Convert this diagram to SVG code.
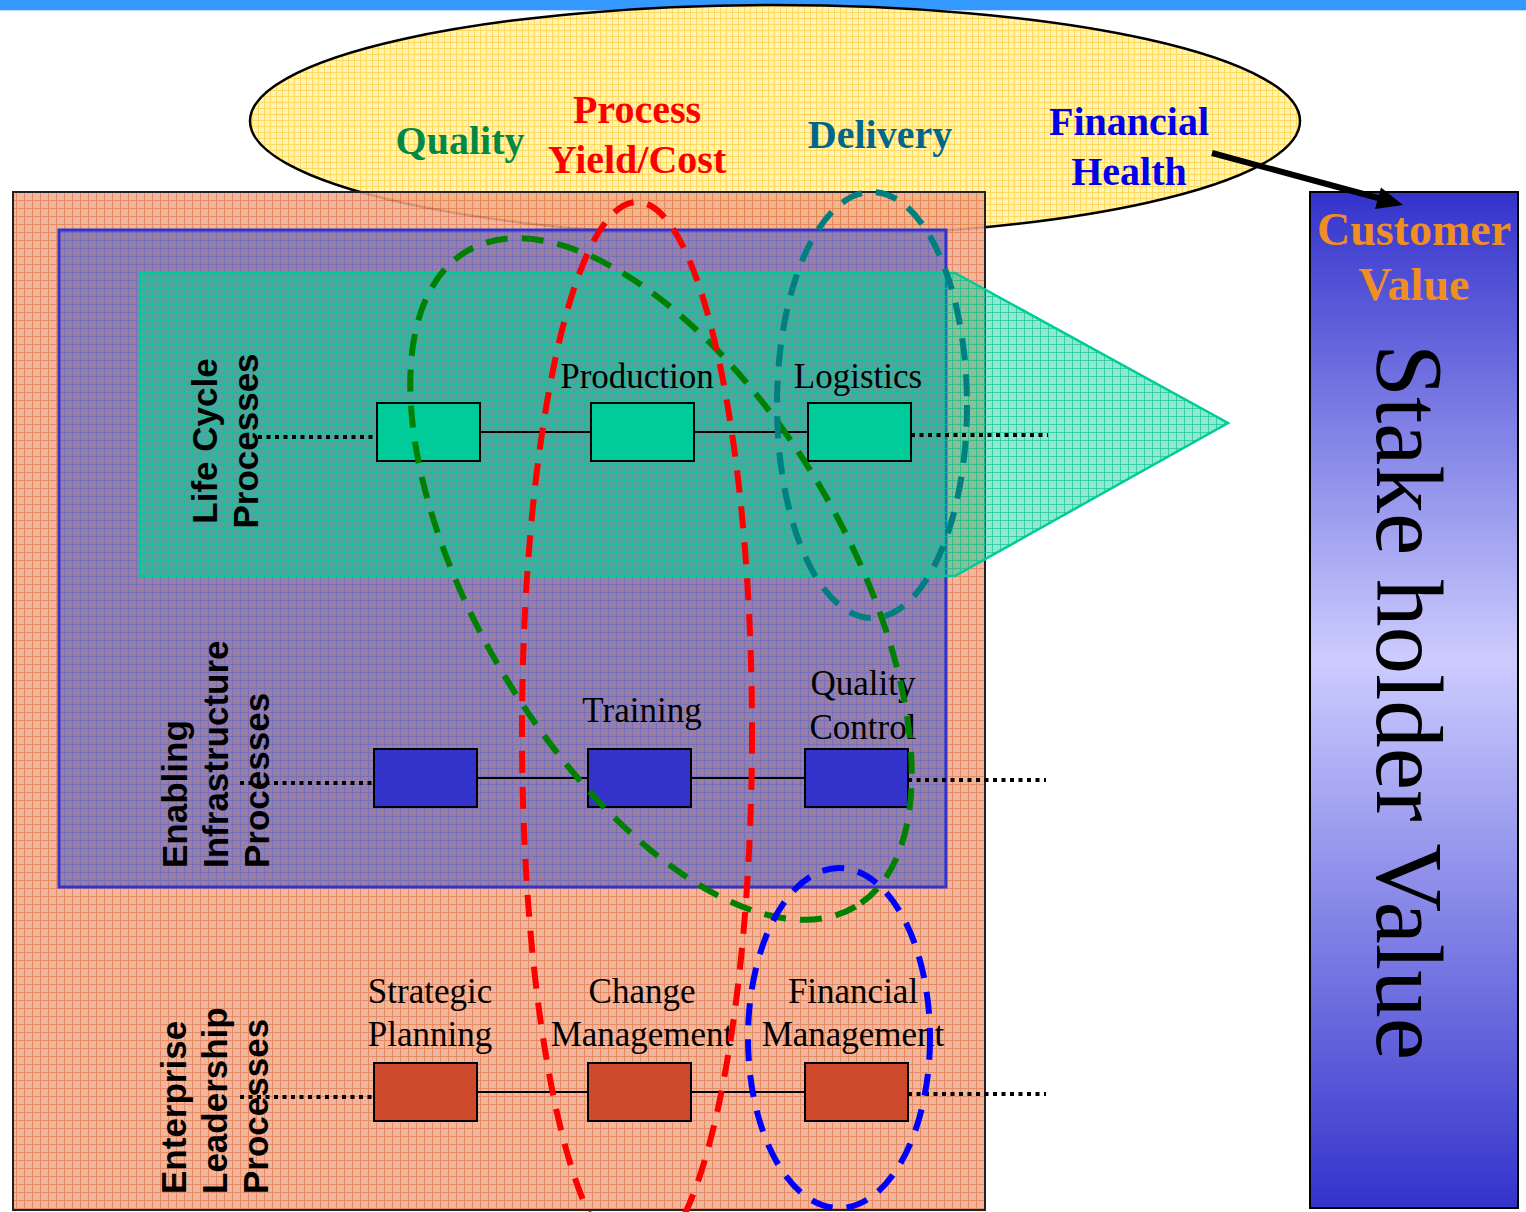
<svg xmlns="http://www.w3.org/2000/svg" width="1526" height="1212" viewBox="0 0 1526 1212">
<style>
.node rect.box{stroke:#000;stroke-width:2}
.lbl{font-family:"Liberation Serif","Times New Roman",serif;font-size:35px;fill:#000;text-anchor:middle}
.side{font-family:"Liberation Sans",Arial,sans-serif;font-size:35px;font-weight:bold;fill:#000}
.hdr{font-family:"Liberation Serif","Times New Roman",serif;font-size:40px;font-weight:bold;text-anchor:middle}
.solid{stroke:#000;stroke-width:2;fill:none}
.dot{stroke:#000;stroke-width:4;stroke-dasharray:4 4.5;fill:none}
.dash{fill:none;stroke-width:6;stroke-dasharray:22 14}
</style>
<defs>
<pattern id="pY" width="6" height="6" patternUnits="userSpaceOnUse">
<rect width="6" height="6" fill="#FFF4B4"/>
<path d="M0 0.5H6M0.5 0V6" stroke="#FFD860" stroke-width="1"/>
</pattern>
<pattern id="pO" width="8" height="8" patternUnits="userSpaceOnUse">
<rect width="8" height="8" fill="#F0AC8E"/>
<path d="M0 0.5H8M0.5 0V8" stroke="#E17B50" stroke-width="1"/>
</pattern>
<pattern id="pP" width="8" height="8" patternUnits="userSpaceOnUse">
<rect width="8" height="8" fill="#917BA4"/>
<path d="M0 0.5H8M0.5 0V8" stroke="#6E6EC6" stroke-width="1"/>
</pattern>
<pattern id="pT" width="8" height="8" patternUnits="userSpaceOnUse">
<rect width="8" height="8" fill="#00CC99" fill-opacity="0.44"/>
<path d="M0 0.5H8M0.5 0V8" stroke="#19C593" stroke-opacity="0.7" stroke-width="1"/>
</pattern>
<linearGradient id="gB" x1="0" y1="0" x2="0" y2="1">
<stop offset="0" stop-color="#3333CC"/>
<stop offset="0.46" stop-color="#CCCCFF"/>
<stop offset="1" stop-color="#3333CC"/>
</linearGradient>
</defs>

<rect x="0" y="0" width="1526" height="10" fill="#3399FF"/>
<rect x="0" y="10" width="1526" height="1" fill="#BFDFFF"/>

<g id="measures">
<ellipse cx="775" cy="121" rx="525" ry="116" fill="url(#pY)" stroke="#000" stroke-width="2.5"/>
<text class="hdr" x="460" y="154" fill="#008844">Quality</text>
<text class="hdr" x="637" y="123" fill="#FF0000">Process</text>
<text class="hdr" x="637" y="173" fill="#FF0000">Yield/Cost</text>
<text class="hdr" x="880" y="148" fill="#00668C">Delivery</text>
<text class="hdr" x="1129" y="135" fill="#0000EE">Financial</text>
<text class="hdr" x="1129" y="185" fill="#0000EE">Health</text>
</g>

<g id="enterprise-area">
<rect x="13" y="192" width="972" height="1018" fill="url(#pO)" fill-opacity="0.88" stroke="#222" stroke-width="2"/>
</g>
<g id="infrastructure-area">
<rect x="59" y="230" width="887" height="657" fill="url(#pP)" fill-opacity="0.92" stroke="#3333CC" stroke-width="3"/>
</g>
<g id="lifecycle-arrow">
<polygon points="140,273 955,273 1228,423 955,576 140,576" fill="url(#pT)" stroke="#00CC99" stroke-width="2.5"/>
</g>

<g id="stakeholder-value">
<rect x="1310" y="192" width="208" height="1016" fill="url(#gB)" stroke="#000" stroke-width="2"/>
<text x="1414" y="245" font-family="Liberation Serif,Times New Roman,serif" font-size="46" font-weight="bold" fill="#EF8E22" text-anchor="middle">Customer</text>
<text x="1414" y="300" font-family="Liberation Serif,Times New Roman,serif" font-size="46" font-weight="bold" fill="#EF8E22" text-anchor="middle">Value</text>
<text transform="translate(1377,702) rotate(90)" font-family="Liberation Serif,Times New Roman,serif" font-size="95" fill="#000" text-anchor="middle">Stake holder Value</text>
</g>

<g id="row-labels">
<text class="side" transform="translate(217,441) rotate(-90)" text-anchor="middle"><tspan x="0" y="0">Life Cycle</tspan><tspan x="0" y="41">Processes</tspan></text>
<text class="side" transform="translate(187,868) rotate(-90)"><tspan x="0" y="0">Enabling</tspan><tspan x="0" y="41">Infrastructure</tspan><tspan x="0" y="82">Processes</tspan></text>
<text class="side" transform="translate(186,1194) rotate(-90)"><tspan x="0" y="0">Enterprise</tspan><tspan x="0" y="41">Leadership</tspan><tspan x="0" y="82">Processes</tspan></text>
</g>

<g id="connectors">
<line class="dot" x1="258" y1="437" x2="377" y2="437"/>
<line class="solid" x1="480" y1="432" x2="591" y2="432"/>
<line class="solid" x1="694" y1="432" x2="808" y2="432"/>
<line class="dot" x1="911" y1="435" x2="1048" y2="435"/>
<line class="dot" x1="240" y1="783" x2="374" y2="783"/>
<line class="solid" x1="477" y1="778" x2="588" y2="778"/>
<line class="solid" x1="691" y1="778" x2="805" y2="778"/>
<line class="dot" x1="908" y1="780" x2="1046" y2="780"/>
<line class="dot" x1="240" y1="1097" x2="374" y2="1097"/>
<line class="solid" x1="477" y1="1092" x2="588" y2="1092"/>
<line class="solid" x1="691" y1="1092" x2="805" y2="1092"/>
<line class="dot" x1="908" y1="1094" x2="1046" y2="1094"/>
<line x1="1212" y1="153" x2="1380" y2="198.5" stroke="#000" stroke-width="6"/>
<polygon points="1403,205 1375,209 1381,187.5" fill="#000"/>
</g>

<g id="lc-1" class="node"><rect class="box" x="377" y="403" width="103" height="58" fill="#00CC99"/></g>
<g id="lc-production" class="node"><rect class="box" x="591" y="403" width="103" height="58" fill="#00CC99"/><text class="lbl" x="637" y="388">Production</text></g>
<g id="lc-logistics" class="node"><rect class="box" x="808" y="403" width="103" height="58" fill="#00CC99"/><text class="lbl" x="858" y="388">Logistics</text></g>

<g id="ei-1" class="node"><rect class="box" x="374" y="749" width="103" height="58" fill="#3333CC"/></g>
<g id="ei-training" class="node"><rect class="box" x="588" y="749" width="103" height="58" fill="#3333CC"/><text class="lbl" x="642" y="722">Training</text></g>
<g id="ei-quality-control" class="node"><rect class="box" x="805" y="749" width="103" height="58" fill="#3333CC"/><text class="lbl" x="863" y="695">Quality</text><text class="lbl" x="863" y="739">Control</text></g>

<g id="el-strategic-planning" class="node"><rect class="box" x="374" y="1063" width="103" height="58" fill="#CF4A2C"/><text class="lbl" x="430" y="1003">Strategic</text><text class="lbl" x="430" y="1046">Planning</text></g>
<g id="el-change-management" class="node"><rect class="box" x="588" y="1063" width="103" height="58" fill="#CF4A2C"/><text class="lbl" x="642" y="1003">Change</text><text class="lbl" x="642" y="1046">Management</text></g>
<g id="el-financial-management" class="node"><rect class="box" x="805" y="1063" width="103" height="58" fill="#CF4A2C"/><text class="lbl" x="853" y="1003">Financial</text><text class="lbl" x="853" y="1046">Management</text></g>

<g id="groupings">
<ellipse class="dash" cx="661" cy="579" rx="381" ry="184" transform="rotate(59.3 661 579)" stroke="#008000"/>
<ellipse class="dash" cx="637" cy="732" rx="115" ry="530" stroke="#FF0000"/>
<ellipse class="dash" cx="872" cy="405" rx="95" ry="213" stroke="#007F80"/>
<ellipse class="dash" cx="839" cy="1038" rx="91" ry="170" stroke="#0000FF"/>
</g>
</svg>
